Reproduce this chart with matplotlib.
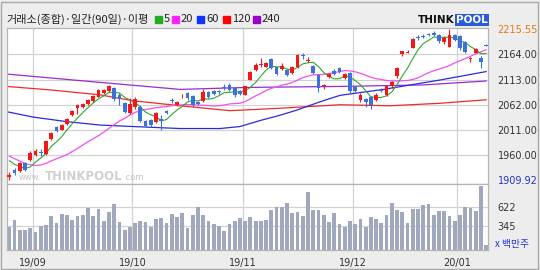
import numpy as np
import pandas as pd
import matplotlib
matplotlib.use('Agg')
import matplotlib.pyplot as plt
from matplotlib.patches import Rectangle

plt.rcParams['font.family'] = ['Noto Sans CJK KR', 'DejaVu Sans']

# closes of the 19 sessions before the first candle, only used for the 5/20 day averages
lead_closes = [2029.5, 2038.7, 2024.6, 2017.3, 1998.1, 1947.0, 1917.5, 1909.7, 1920.6, 1943.7,
               1943.2, 1925.8, 1938.4, 1927.2, 1939.9, 1960.3, 1964.7, 1951.0, 1948.3]

opens = [1917, 1930, 1929, 1944, 1950, 1961, 1967, 1962, 1992, 2018,
         2012, 2023, 2041, 2055, 2057, 2064, 2070, 2078, 2085, 2089,
         2095, 2082, 2066, 2045, 2058, 2058, 2030, 2031, 2028, 2033,
         2050, 2071, 2062, 2079, 2085, 2080, 2068, 2070, 2087, 2089,
         2090, 2098, 2102, 2095, 2089, 2082, 2112, 2132, 2142, 2139,
         2154, 2138, 2134, 2132, 2127, 2138, 2162, 2150, 2140, 2122,
         2099, 2119, 2131, 2136, 2117, 2126, 2097, 2072, 2073, 2078,
         2072, 2092, 2082, 2099, 2120, 2165, 2167, 2177, 2198, 2201,
         2204, 2207, 2203, 2188, 2179, 2203, 2201, 2188, 2154, 2166,
         2156, 2183]
highs = [1927, 1934, 1946, 1946, 1969, 1972, 1972, 1989, 2007, 2020,
         2023, 2035, 2051, 2064, 2065, 2074, 2082, 2093, 2093, 2102,
         2097, 2085, 2068, 2075, 2077, 2061, 2032, 2033, 2048, 2041,
         2052, 2075, 2070, 2083, 2088, 2082, 2070, 2093, 2089, 2091,
         2092, 2104, 2105, 2097, 2091, 2100, 2131, 2146, 2156, 2149,
         2156, 2139, 2147, 2134, 2140, 2165, 2166, 2158, 2142, 2124,
         2104, 2127, 2134, 2138, 2127, 2128, 2100, 2085, 2075, 2080,
         2085, 2096, 2100, 2109, 2138, 2171, 2173, 2196, 2203, 2205,
         2206, 2210, 2205, 2201, 2215.55, 2205, 2203, 2190, 2159, 2176,
         2160, 2185]
lows = [1909.92, 1920, 1926, 1928, 1949, 1958, 1959, 1961, 1991, 2008,
        2011, 2021, 2040, 2043, 2055, 2062, 2068, 2077, 2084, 2087,
        2070, 2062, 2046, 2043, 2053, 2028, 2018, 2018, 2025, 2011,
        2043, 2066, 2060, 2075, 2072, 2058, 2062, 2068, 2075, 2082,
        2084, 2091, 2089, 2078, 2082, 2081, 2111, 2130, 2139, 2138,
        2134, 2122, 2132, 2120, 2125, 2136, 2155, 2148, 2125, 2088,
        2094, 2117, 2122, 2127, 2115, 2086, 2087, 2068, 2058, 2053,
        2070, 2087, 2080, 2095, 2117, 2160, 2166, 2176, 2193, 2196,
        2200, 2200, 2187, 2185, 2178, 2191, 2173, 2166, 2149, 2166,
        2136, 2181]
closes = [1920, 1924, 1944, 1930, 1965, 1969, 1965, 1988, 2004, 2010,
          2021, 2033, 2050, 2062, 2064, 2072, 2080, 2091, 2092, 2100,
          2073, 2073, 2048, 2064, 2074, 2030, 2020, 2021, 2045, 2030,
          2046, 2069, 2068, 2080, 2075, 2062, 2064, 2088, 2078, 2084,
          2087, 2095, 2092, 2082, 2084, 2099, 2129, 2142, 2145, 2146,
          2136, 2124, 2141, 2122, 2138, 2162, 2160, 2152, 2127, 2095,
          2101, 2124, 2124, 2129, 2124, 2089, 2089, 2082, 2068, 2062,
          2082, 2090, 2099, 2107, 2136, 2170, 2169, 2194, 2196, 2199,
          2202, 2203, 2190, 2196, 2203, 2193, 2176, 2169, 2156, 2174,
          2149, 2181]
volumes = [328, 434, 294, 294, 313, 265, 347, 356, 491, 395,
           520, 506, 434, 491, 506, 602, 491, 592, 419, 544,
           660, 405, 294, 328, 395, 419, 405, 328, 443, 458,
           395, 520, 472, 530, 313, 506, 626, 506, 424, 371,
           352, 280, 371, 419, 467, 420, 470, 419, 424, 434,
           578, 626, 626, 674, 539, 554, 491, 833, 578, 578,
           506, 409, 530, 371, 337, 424, 376, 443, 337, 472,
           443, 395, 506, 674, 578, 544, 385, 592, 592, 650,
           660, 506, 568, 568, 491, 419, 506, 626, 602, 568,
           920, 72]

# long averages at a few sessions
ma60_idx = [-0.5, 4.6, 10.9, 17.3, 23.7, 32.6, 40.2, 44, 47.8, 51.7, 54.8, 59.3, 63.1, 71.4, 82.2, 91]
ma60_val = [2048, 2037, 2028, 2021, 2018, 2014, 2014, 2018, 2030, 2041, 2051, 2068, 2081, 2093, 2112, 2129]
ma120_idx = [-0.5, 7.8, 17.3, 23.7, 32.6, 42.1, 51.7, 63.1, 72.7, 82.2, 91]
ma120_val = [2099, 2092, 2082, 2070, 2060, 2050, 2055, 2062, 2060, 2065, 2072]
ma240_idx = [-0.5, 15.4, 32.6, 45.3, 63.1, 78.9, 91]
ma240_val = [2124, 2109, 2093, 2097, 2099, 2102, 2110]

month_idx = [5, 24, 45, 66, 86]
month_labels = ['19/09', '19/10', '19/11', '19/12', '20/01']
price_ticks = [1909.92, 1960, 2011, 2062, 2113, 2164, 2215.55]
price_grid = [1960, 2011, 2062, 2113, 2164]
vol_ticks = [345, 622]

W, H = 540, 270


def box(x0, y0, x1, y1):
    return [x0 / W, 1 - y1 / H, (x1 - x0) / W, (y1 - y0) / H]


fig = plt.figure(figsize=(5.4, 2.7), dpi=100)
fig.patch.set_facecolor('#EDEDED')
fig.patches.append(Rectangle((1 / W, 1 / H), 1 - 3 / W, 1 - 3 / H, transform=fig.transFigure,
                             fill=False, edgecolor='#A8A8A8', lw=1))

ax = fig.add_axes(box(7, 28, 488, 184))
axv = fig.add_axes(box(7, 184, 488, 250), sharex=ax)

x = np.arange(len(closes))
o = np.array(opens, float)
c = np.array(closes, float)
up = c >= o
cols = np.where(up, '#F01818', '#3A72DA')

grid_col = '#D2D2D2'
for v in price_grid:
    ax.axhline(v, color=grid_col, lw=0.9, zorder=0)
for v in vol_ticks:
    axv.axhline(v, color=grid_col, lw=0.9, zorder=0)
for m in month_idx:
    ax.axvline(m - 0.5, color=grid_col, lw=0.9, zorder=0)
    axv.axvline(m - 0.5, color=grid_col, lw=0.9, zorder=0)

# moving averages
allc = pd.Series(lead_closes + closes)
ma5 = allc.rolling(5).mean().values[len(lead_closes):]
ma20 = allc.rolling(20).mean().values[len(lead_closes):]
ax.plot(ma240_idx, ma240_val, color='#9A2BD0', lw=0.9, zorder=2)
ax.plot(ma120_idx, ma120_val, color='#EE2A2A', lw=0.9, zorder=2)
ax.plot(ma60_idx, ma60_val, color='#2A2ADD', lw=0.9, zorder=2)
ax.plot(x, ma20, color='#F050F0', lw=0.9, zorder=2)
ax.plot(x, ma5, color='#2EA82E', lw=0.8, zorder=2)

# candles
ax.vlines(x, lows, highs, color=cols, lw=0.8, zorder=3)
ax.bar(x, np.maximum(np.abs(c - o), 0.8), bottom=np.minimum(o, c), width=0.72,
       color=cols, lw=0, zorder=3)

# volume
axv.bar(x, volumes, width=0.72, color='#A0A8BD', lw=0, zorder=2)

ax.set_xlim(-0.45, 91.35)
ax.set_ylim(1902, 2217)
axv.set_ylim(0, 954)

for a in (ax, axv):
    a.set_facecolor('white')
    for s in a.spines.values():
        s.set_color('#B5B5B5')
        s.set_linewidth(0.9)
    a.yaxis.tick_right()
    a.tick_params(length=0, labelsize=7, pad=7, colors='#333333')

ax.tick_params(axis='x', labelbottom=False)
ax.set_yticks(price_ticks)
ax.set_yticklabels(['%.2f' % v for v in price_ticks], family='DejaVu Sans')
ax.get_yticklabels()[0].set_color('#2233CC')
ax.get_yticklabels()[-1].set_color('#E07A10')

axv.set_yticks(vol_ticks)
axv.set_yticklabels([str(v) for v in vol_ticks], family='DejaVu Sans')
axv.set_xticks([m - 0.5 for m in month_idx])
axv.set_xticklabels(month_labels, family='DejaVu Sans')
axv.tick_params(axis='x', pad=6)


def ftext(px, py, s, **kw):
    fig.text(px / W, 1 - py / H, s, va='center', **kw)


# title and legend
ftext(6, 19, '거래소(종합)·일간(90일)·이평', fontsize=8, color='#222222')
leg_sq = [155, 172, 197, 223, 253]
leg_tx = [164, 181, 206, 232, 262]
leg_lab = ['5', '20', '60', '120', '240']
leg_col = ['#22AA22', '#FF22FF', '#1133FF', '#FF0000', '#9900CC']
for sx, tx, lab, col in zip(leg_sq, leg_tx, leg_lab, leg_col):
    fig.patches.append(Rectangle((sx / W, 1 - 22.5 / H), 7 / W, 7 / H,
                                 transform=fig.transFigure, color=col))
    ftext(tx, 19, lab, fontsize=8, color='#222222')

# logo
ftext(418, 20, 'THINK', fontsize=7.5, fontweight='bold', color='#111111', family='DejaVu Sans')
ftext(456, 20, 'POOL', fontsize=7.5, fontweight='bold', color='white', family='DejaVu Sans',
      bbox=dict(boxstyle='square,pad=0.12', fc='#2A5AD8', ec='none'))

# watermark
ftext(19, 178, 'www.', fontsize=6, color='#C4C4C4', family='DejaVu Sans')
ftext(45, 177, 'THINKPOOL', fontsize=8.5, fontweight='bold', color='#D0D0D0', family='DejaVu Sans')
ftext(123, 178, '.com', fontsize=6, color='#C4C4C4', family='DejaVu Sans')

ftext(495, 244, 'x 백만주', fontsize=7, color='#2233CC')

fig.savefig('out.png', dpi=100)
